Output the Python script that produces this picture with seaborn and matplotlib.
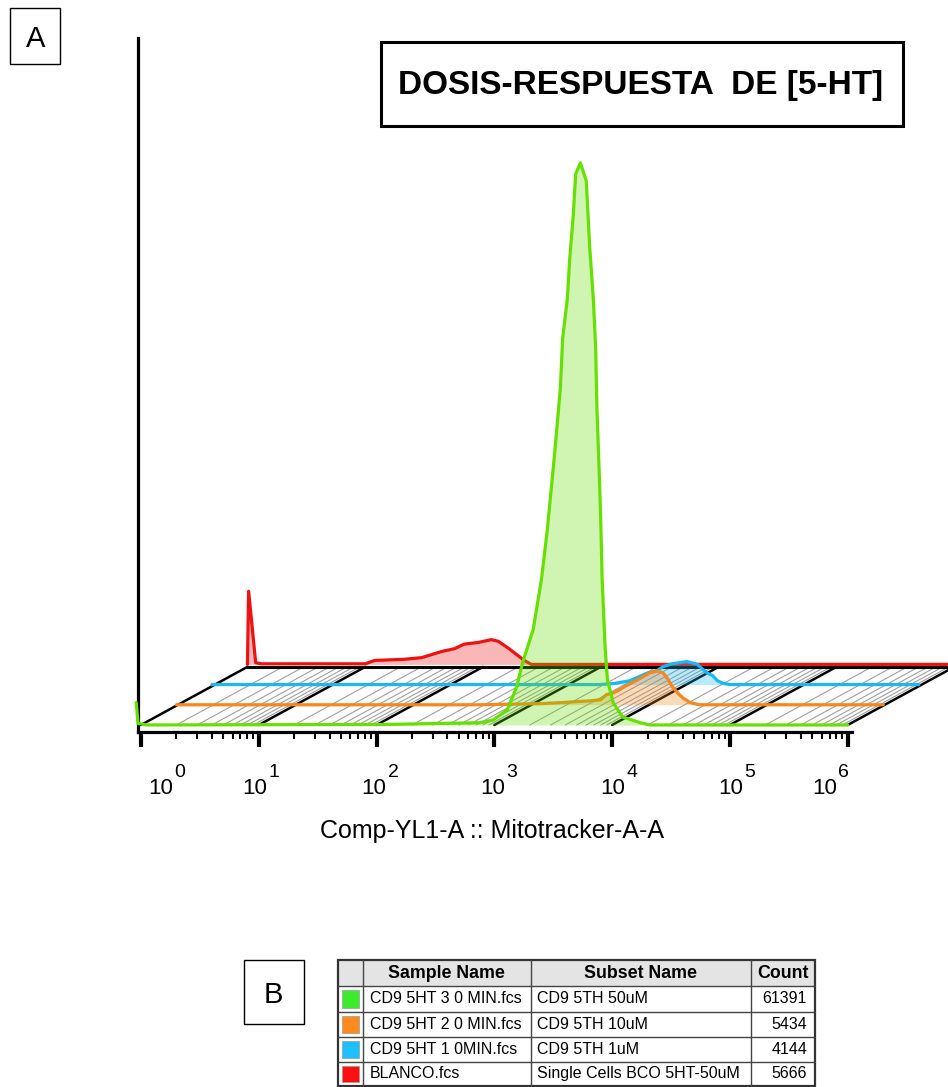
import numpy as np
import matplotlib
matplotlib.use("Agg")
import matplotlib.pyplot as plt
import seaborn as sns
from matplotlib import transforms as mtrans
from matplotlib.patches import ConnectionPatch, Rectangle
from matplotlib.ticker import LogLocator, NullFormatter
from matplotlib import font_manager

# ---------------- data ----------------
title_text = "DOSIS-RESPUESTA  DE [5-HT]"
x_label = "Comp-YL1-A :: Mitotracker-A-A"
tick_decades = [0, 1, 2, 3, 4, 5, 6]
tick_base = "10"
tick_exponents = ["0", "1", "2", "3", "4", "5", "6"]

# histograms: x as log10(intensity), y as % of tallest peak
green_log = [-0.04, -0.025, 0.05, 2.1, 2.6, 2.88, 2.99, 3.11, 3.19, 3.24, 3.33, 3.40, 3.45,
             3.51, 3.56, 3.58, 3.62, 3.64, 3.67, 3.69, 3.73, 3.78, 3.81, 3.84, 3.86, 3.87,
             3.895, 3.905, 3.915, 3.94, 3.96, 4.01, 4.09, 4.24, 4.32, 6.0]
green_pct = [4.0, 0.3, 0.0, 0.1, 0.3, 0.4, 0.9, 2.7, 6.8, 11.1, 17.0, 25.9, 34.8,
             47.9, 59.8, 68.8, 75.9, 83.0, 90.7, 98.0, 100.0, 96.8, 84.8, 75.9, 67.0, 56.8,
             42.0, 34.8, 25.9, 13.9, 8.0, 3.9, 1.4, 0.4, 0.0, 0.0]

orange_log = [0.0, 2.58, 3.09, 3.28, 3.51, 3.60, 3.65, 3.71, 3.77, 3.82, 3.93, 4.02, 4.08,
              4.13, 4.17, 4.21, 4.26, 4.30, 4.36, 4.44, 6.0]
orange_pct = [0.0, 0.0, 0.2, 0.4, 0.7, 0.9, 1.8, 2.1, 2.8, 3.4, 4.6, 5.7, 6.0,
              5.7, 4.6, 3.2, 2.0, 1.2, 0.4, 0.0, 0.0]

blue_log = [0.0, 3.29, 3.42, 3.55, 3.69, 3.78, 3.83, 3.91, 4.03, 4.12, 4.20, 4.25, 4.29,
            4.34, 4.40, 6.0]
blue_pct = [0.0, 0.0, 0.2, 0.7, 2.0, 2.5, 3.2, 3.7, 4.1, 3.6, 2.1, 1.6, 0.7,
            0.2, 0.0, 0.0]

red_log = [0.0, 0.01, 0.07, 0.12, 1.0, 1.08, 1.33, 1.48, 1.65, 1.76, 1.84, 1.96, 2.07,
           2.13, 2.22, 2.35, 2.41, 6.0]
red_pct = [0.0, 13.0, 0.3, 0.1, 0.1, 0.7, 0.9, 1.2, 2.3, 2.8, 3.6, 3.9, 4.4,
           4.1, 2.8, 0.7, 0.0, 0.0]

sample_names = ["CD9 5HT 3 0 MIN.fcs", "CD9 5HT 2 0 MIN.fcs", "CD9 5HT 1 0MIN.fcs", "BLANCO.fcs"]
subset_names = ["CD9 5TH 50uM", "CD9 5TH 10uM", "CD9 5TH 1uM", "Single Cells BCO 5HT-50uM"]
counts = [61391, 5434, 4144, 5666]
table_header = ["Sample Name", "Subset Name", "Count"]
panel_labels = ["A", "B"]

line_colors = ["#66e000", "#f5871f", "#18b9f2", "#ee1111"]
swatch_colors = ["#3cec2c", "#ff8a1e", "#1ec0ff", "#ff1010"]

# ---------------- style ----------------
sns.set_theme(style="ticks")
plt.rcParams["font.family"] = ["Liberation Sans", "DejaVu Sans"]
plt.rcParams["text.color"] = "black"
plt.rcParams["axes.labelcolor"] = "black"
names = {f.name for f in font_manager.fontManager.ttflist}
narrow = "Liberation Sans Narrow" in names

W, H = 948, 1087
fig = plt.figure(figsize=(W / 100, H / 100), dpi=100)


def frac(x0, y0, x1, y1):
    return [x0 / W, 1 - y1 / H, (x1 - x0) / W, (y1 - y0) / H]


ax = fig.add_axes(frac(138, 38, 852, 732))
ax.set_xscale("log")
ax.set_xlim(10 ** -0.025, 10 ** 6.036)
ax.set_ylim(-1.25, 122.2)

DX, DY = 35.5, 20.2


def layer(k, extra_dy=0.0):
    return ax.transData + mtrans.ScaledTranslation(k * DX / 100, (k * DY + extra_dy) / 100,
                                                   fig.dpi_scale_trans)


# ---------------- floor grid ----------------
major_vals = [10.0 ** d for d in tick_decades]
minor_vals = [m * 10.0 ** d for d in tick_decades[:-1] for m in range(2, 10)]
for v in minor_vals:
    ax.add_artist(ConnectionPatch((v, 0), (v, 0), coordsA=layer(0), coordsB=layer(3, -2.5),
                                  color="#a0a0a0", lw=0.8, zorder=1.2, clip_on=False))
for v in major_vals:
    ax.add_artist(ConnectionPatch((v, 0), (v, 0), coordsA=layer(0), coordsB=layer(3, -2.5),
                                  color="black", lw=1.8, zorder=1.4, clip_on=False))
ax.plot([major_vals[0], major_vals[-1]], [0, 0], transform=layer(3, -2.5), color="black",
        lw=2.2, zorder=1.6, clip_on=False)

# ---------------- histograms (back to front) ----------------
series = [(red_log, red_pct, 3), (blue_log, blue_pct, 2),
          (orange_log, orange_pct, 1), (green_log, green_pct, 0)]
for lg, pct, k in series:
    xs = np.power(10.0, np.array(lg))
    ys = np.array(pct)
    t = layer(k)
    c = line_colors[k]
    z = 2 + (3 - k)
    ax.fill_between(xs, 0, ys, transform=t, color=c, alpha=0.3, lw=0, zorder=z, clip_on=False)
    sns.lineplot(x=xs, y=ys, ax=ax, color=c, linewidth=2.3, sort=False, estimator=None,
                 transform=t, zorder=z + 0.1, clip_on=False)

ax.set_xlim(10 ** -0.025, 10 ** 6.036)
ax.set_ylim(-1.25, 122.2)

# ---------------- axes styling ----------------
for s in ["top", "right"]:
    ax.spines[s].set_visible(False)
for s in ["left", "bottom"]:
    ax.spines[s].set_linewidth(2.3)
    ax.spines[s].set_color("black")
ax.set_yticks([])
ax.set_xticks(major_vals)
ax.xaxis.set_minor_locator(LogLocator(base=10, subs=range(2, 10), numticks=100))
ax.xaxis.set_minor_formatter(NullFormatter())
ax.tick_params(axis="x", which="major", direction="out", length=11, width=3, color="black",
               labelbottom=False)
ax.tick_params(axis="x", which="minor", direction="out", length=5, width=1.5, color="black")
ax.set_facecolor("none")

bt = mtrans.blended_transform_factory(ax.transData, ax.transAxes)
label_dx = [7, -16, -15, -14, -12, -12, -36]
for d, e, ddx in zip(tick_decades, tick_exponents, label_dx):
    off = mtrans.ScaledTranslation(ddx / 100, -62 / 100, fig.dpi_scale_trans)
    ax.text(10.0 ** d, 0, tick_base, transform=bt + off, ha="left", va="baseline",
            fontsize=16, color="black")
    off2 = mtrans.ScaledTranslation((ddx + 26) / 100, -45 / 100, fig.dpi_scale_trans)
    ax.text(10.0 ** d, 0, e, transform=bt + off2, ha="left", va="baseline",
            fontsize=14, color="black")

ax.set_xlabel(x_label, fontsize=18, color="black")
ax.xaxis.label.set_va("baseline")
ax.xaxis.set_label_coords((492 - 138) / 714, -(838 - 732) / 694)

# ---------------- title box ----------------
fig.add_artist(Rectangle((381 / W, 1 - 126 / H), (903 - 381) / W, (126 - 42) / H,
                         transform=fig.transFigure, fill=False, lw=2.2, ec="black"))
if narrow:
    fig.text(641 / W, 1 - 94 / H, title_text, family=["Liberation Sans Narrow", "Liberation Sans"],
             fontsize=28, fontweight="bold", ha="center", va="baseline", color="black")
else:
    fig.text(641 / W, 1 - 94 / H, title_text, fontsize=24, fontweight="bold",
             ha="center", va="baseline", color="black")

# ---------------- panel labels ----------------
fig.add_artist(Rectangle((10 / W, 1 - 64 / H), 50 / W, 56 / H, transform=fig.transFigure,
                         fill=False, lw=1, ec="black"))
fig.text(36 / W, 1 - 47 / H, panel_labels[0], fontsize=21, ha="center", va="baseline")
fig.add_artist(Rectangle((244 / W, 1 - 1024 / H), 60 / W, 64 / H, transform=fig.transFigure,
                         fill=False, lw=1, ec="black"))
fig.text(273 / W, 1 - 1003 / H, panel_labels[1], fontsize=21, ha="center", va="baseline")

# ---------------- table ----------------
tax = fig.add_axes(frac(338, 960, 815, 1086))
tax.set_xlim(0, 477)
tax.set_ylim(126, 0)
tax.axis("off")
col_edges = [0, 24.5, 193, 412.5, 477]
row_edges = [0, 26, 51.5, 77, 101.5, 126]
tax.add_patch(Rectangle((0, 0), 477, 26, facecolor="#e4e4e4", edgecolor="none"))
for y in row_edges[1:-1]:
    tax.plot([0, 477], [y, y], color="#444444", lw=1, clip_on=False)
for x in col_edges[1:-1]:
    tax.plot([x, x], [0, 126], color="#444444", lw=1, clip_on=False)
tax.add_patch(Rectangle((0, 0), 477, 126, fill=False, ec="#333333", lw=1.6, clip_on=False))
for j, htxt in enumerate(table_header):
    cx = (col_edges[j + 1] + col_edges[j + 2]) / 2
    tax.text(cx, 13.5, htxt, ha="center", va="center", fontsize=12.8, fontweight="bold")
for i in range(len(sample_names)):
    top, bot = row_edges[i + 1], row_edges[i + 2]
    cy = (top + bot) / 2
    tax.add_patch(Rectangle((3.5, top + 4), 17, bot - top - 8, facecolor=swatch_colors[i],
                            edgecolor="#999999", lw=0.5))
    tax.text(col_edges[1] + 7, cy, sample_names[i], ha="left", va="center", fontsize=11.5)
    tax.text(col_edges[2] + 6, cy, subset_names[i], ha="left", va="center", fontsize=11.5)
    tax.text(col_edges[4] - 8, cy, str(counts[i]), ha="right", va="center", fontsize=11.5)

fig.savefig("out.png", dpi=100)
